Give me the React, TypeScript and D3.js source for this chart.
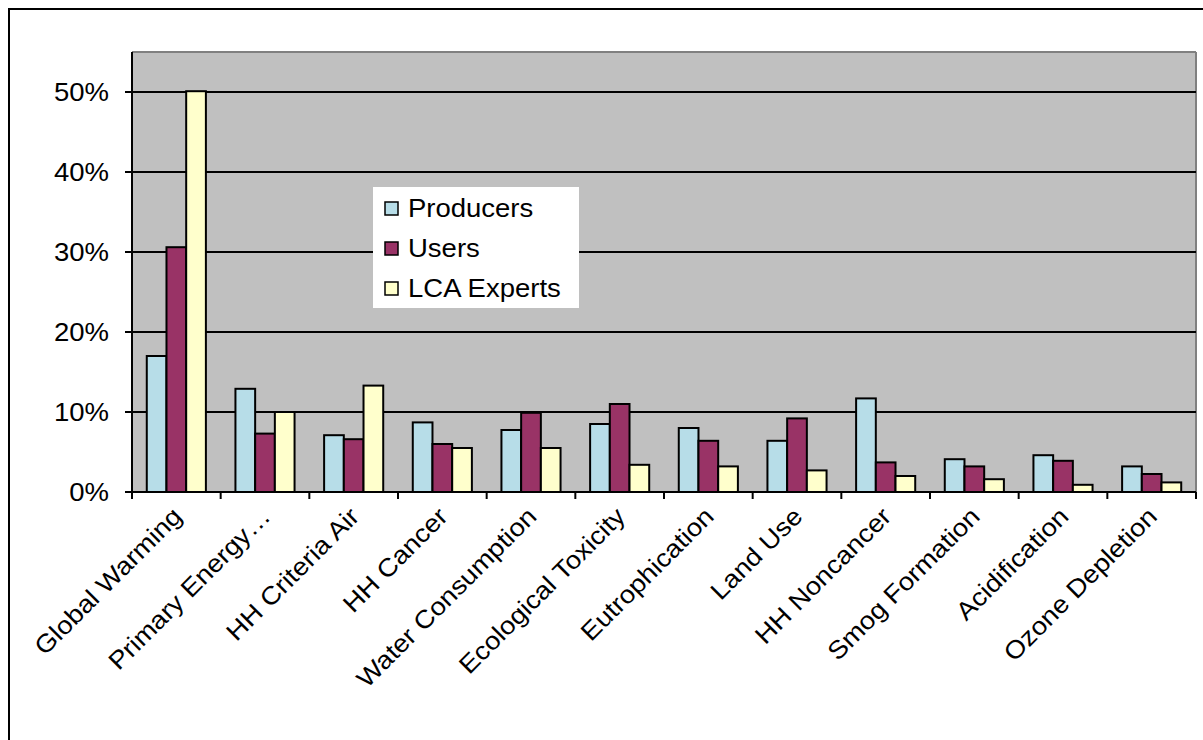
import React from "react";
import * as d3 from "d3";

const categories = [
  "Global Warming",
  "Primary Energy…",
  "HH Criteria Air",
  "HH Cancer",
  "Water Consumption",
  "Ecological Toxicity",
  "Eutrophication",
  "Land Use",
  "HH Noncancer",
  "Smog Formation",
  "Acidification",
  "Ozone Depletion",
];
const seriesNames = ["Producers", "Users", "LCA Experts"];
const seriesColors = ["#B7DDE8", "#993366", "#FFFFCC"];
const producers = [0.17, 0.129, 0.071, 0.087, 0.0775, 0.085, 0.08, 0.064, 0.117, 0.041, 0.046, 0.032];
const users = [0.306, 0.073, 0.066, 0.06, 0.099, 0.11, 0.064, 0.092, 0.037, 0.032, 0.039, 0.0225];
const lcaExperts = [0.501, 0.1, 0.133, 0.055, 0.055, 0.034, 0.032, 0.027, 0.02, 0.016, 0.009, 0.012];
const yTicks = [0, 0.1, 0.2, 0.3, 0.4, 0.5];

const W = 1203;
const H = 740;
const plot = { left: 132, right: 1196, top: 52, bottom: 492 };
const FONT = "'Liberation Sans', Arial, sans-serif";
const FS = 25;
const SX = 1.1;

export default function App() {
  const series = [producers, users, lcaExperts];
  const x0 = d3.scaleBand<string>().domain(categories).range([plot.left, plot.right]).paddingInner(0).paddingOuter(0);
  const x1 = d3
    .scaleBand<string>()
    .domain(seriesNames)
    .range([0, x0.bandwidth()])
    .paddingInner(0)
    .paddingOuter(0.75);
  const y = d3.scaleLinear().domain([0, 0.55]).range([plot.bottom, plot.top]);
  const fmt = d3.format(".0%");

  const boundaries = categories.map((c) => x0(c)!).concat([plot.right]);

  return (
    <svg width={W} height={H} style={{ position: "absolute", left: 0, top: 0, background: "#fff" }}>
      <rect x={9} y={9} width={W + 20} height={H + 20} fill="#fff" stroke="#000" strokeWidth={2} />
      {/* plot area */}
      <rect x={plot.left} y={plot.top} width={plot.right - plot.left} height={plot.bottom - plot.top} fill="#C0C0C0" />
      <line x1={plot.left} x2={plot.right} y1={plot.top} y2={plot.top} stroke="#808080" strokeWidth={2} />
      <line x1={plot.right} x2={plot.right} y1={plot.top} y2={plot.bottom} stroke="#808080" strokeWidth={2} />
      {/* gridlines */}
      {yTicks.map((t) => (
        <g key={t}>
          <line x1={plot.left - 7} x2={plot.right} y1={y(t)} y2={y(t)} stroke="#000" strokeWidth={2} />
          <text
            transform={`translate(109, ${y(t)}) scale(${SX}, 1)`}
            dy="0.36em"
            textAnchor="end"
            fontFamily={FONT}
            fontSize={FS}
            fill="#000"
          >
            {fmt(t)}
          </text>
        </g>
      ))}
      {/* bars */}
      {categories.map((c, i) => (
        <g key={c}>
          {series.map((s, j) => (
            <rect
              key={j}
              x={x0(c)! + x1(seriesNames[j])!}
              y={y(s[i])}
              width={x1.bandwidth()}
              height={y(0) - y(s[i])}
              fill={seriesColors[j]}
              stroke="#000"
              strokeWidth={2}
            />
          ))}
        </g>
      ))}
      {/* axes */}
      <line x1={plot.left} x2={plot.left} y1={plot.top} y2={plot.bottom} stroke="#000" strokeWidth={2} />
      <line x1={plot.left} x2={plot.right} y1={plot.bottom} y2={plot.bottom} stroke="#000" strokeWidth={2} />
      {boundaries.map((b, i) => (
        <line key={i} x1={b} x2={b} y1={plot.bottom} y2={plot.bottom + 7} stroke="#000" strokeWidth={2} />
      ))}
      {/* x labels */}
      {categories.map((c) => {
        const cx = x0(c)! + x0.bandwidth() / 2 + 7;
        const cy = plot.bottom + 26;
        return (
          <text
            key={c}
            transform={`translate(${cx}, ${cy}) rotate(-45) scale(${SX}, 1)`}
            textAnchor="end"
            fontFamily={FONT}
            fontSize={FS}
            fill="#000"
          >
            {c}
          </text>
        );
      })}
      {/* legend */}
      <rect x={373} y={187} width={206} height={121} fill="#fff" />
      {seriesNames.map((n, j) => (
        <g key={n}>
          <rect x={385} y={202 + j * 40} width={13} height={13} fill={seriesColors[j]} stroke="#000" strokeWidth={1.5} />
          <text
            transform={`translate(408, ${217 + j * 40}) scale(${SX}, 1)`}
            fontFamily={FONT}
            fontSize={FS}
            fill="#000"
          >
            {n}
          </text>
        </g>
      ))}
    </svg>
  );
}
